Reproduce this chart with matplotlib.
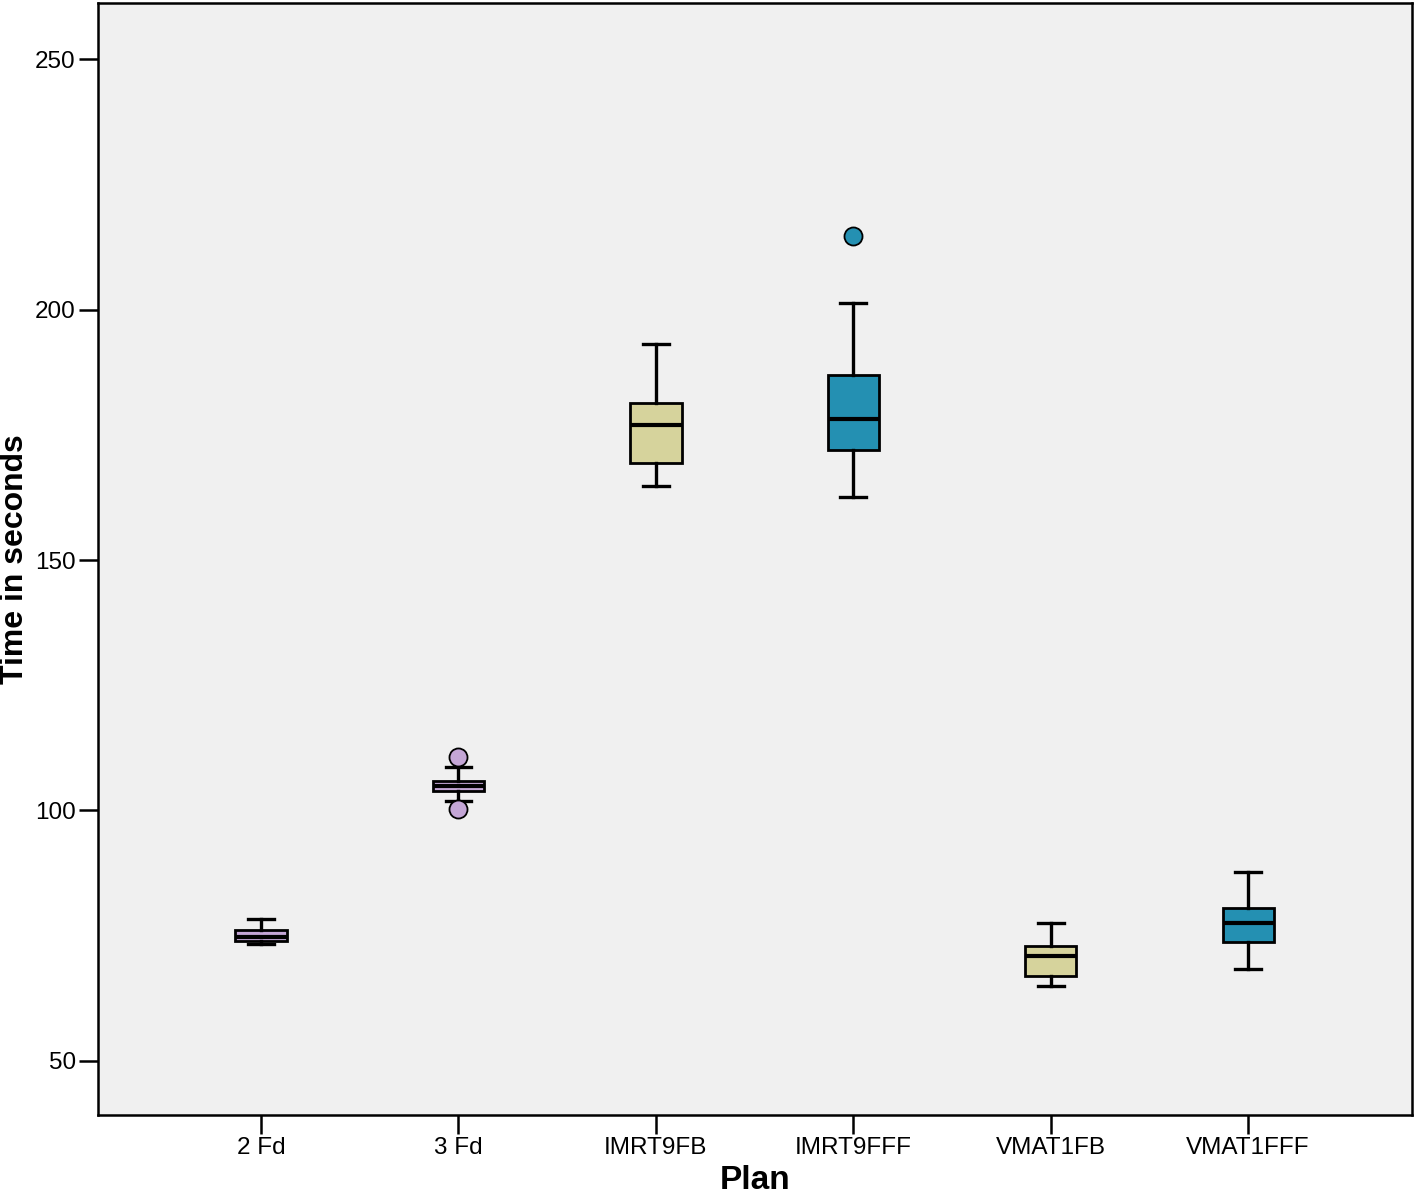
import matplotlib
matplotlib.use("Agg")
import matplotlib.pyplot as plt

plt.rcParams['font.family'] = ['Liberation Sans', 'DejaVu Sans']

plans = ["2 Fd", "3 Fd", "IMRT9FB", "IMRT9FFF", "VMAT1FB", "VMAT1FFF"]
whisker_low = [73.3, 101.9, 164.8, 162.6, 65.0, 68.4]
q1 = [74.0, 103.8, 169.3, 172.0, 67.0, 73.8]
median = [74.8, 104.9, 176.9, 178.1, 71.0, 77.6]
q3 = [76.1, 105.9, 181.4, 186.9, 73.0, 80.6]
whisker_high = [78.3, 108.6, 193.1, 201.4, 77.5, 87.8]
outliers = [[], [110.7, 100.3], [], [214.7], [], []]
colors = ["#C4A6D6", "#C4A6D6", "#D6D39C", "#2490B2", "#D6D39C", "#2490B2"]
yticks = [50, 100, 150, 200, 250]

fig = plt.figure(figsize=(14.18, 12.0), dpi=100)
ax = fig.add_axes([0.0691, 0.0708, 0.9267, 0.9267])
ax.set_facecolor("#F0F0F0")

stats = []
for i in range(len(plans)):
    stats.append(dict(label=plans[i], whislo=whisker_low[i], q1=q1[i], med=median[i],
                      q3=q3[i], whishi=whisker_high[i], fliers=outliers[i]))

positions = list(range(len(plans)))
bp = ax.bxp(stats, positions=positions, widths=0.26, patch_artist=True,
            showfliers=True,
            boxprops=dict(linewidth=2.0, edgecolor="black"),
            medianprops=dict(color="black", linewidth=3),
            whiskerprops=dict(color="black", linewidth=2.4),
            capprops=dict(color="black", linewidth=2.4),
            capwidths=0.13)
for patch, c in zip(bp['boxes'], colors):
    patch.set_facecolor(c)
for fl, c in zip(bp['fliers'], colors):
    fl.set_marker('o')
    fl.set_markerfacecolor(c)
    fl.set_markeredgecolor('black')
    fl.set_markeredgewidth(1.3)
    fl.set_markersize(13)

ax.set_xlim(-0.826, 5.83)
ax.set_ylim(39.2, 261.2)
ax.set_yticks(yticks)
ax.set_xticks(positions)
ax.set_xticklabels(plans)
for s in ax.spines.values():
    s.set_linewidth(1.8)
ax.tick_params(axis='both', direction='out', length=14, width=1.8, labelsize=17.5, pad=2)
ax.set_xlabel("Plan", fontsize=24, fontweight='bold', labelpad=4)
ax.set_ylabel("Time in seconds", fontsize=23, fontweight='bold')
ax.yaxis.set_label_coords(-0.0518, 0.5)

fig.savefig("out.png", dpi=100)
